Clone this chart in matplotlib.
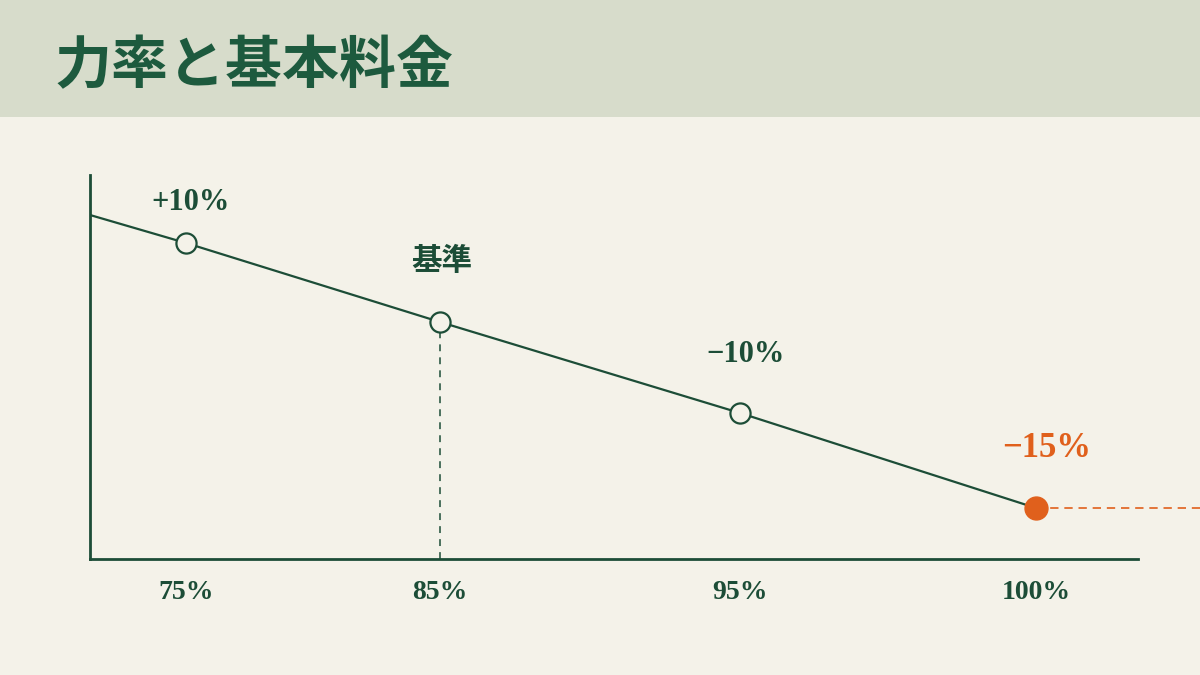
import numpy as np
import matplotlib
matplotlib.use('Agg')
import matplotlib.pyplot as plt
from matplotlib.patches import Rectangle


### data
title = '力率と基本料金'
pf_values = [75, 85, 95, 100]               # power factor (%)
pf_labels = ['75%', '85%', '95%', '100%']
rates = [10, 0, -10, -15]                   # basic charge adjustment (%)
rate_labels = ['+10%', '基準', '−10%', '−15%']
line_pf = [70] + pf_values                  # line runs on to the left axis
line_rates = [15] + rates

### colours
bg = '#f4f2e9'
banner = '#d7dccb'
green = '#1c4d37'
title_green = '#1d5a3e'
orange = '#e0601c'

plt.rcParams['font.family'] = ['Liberation Serif', 'Noto Sans CJK JP', 'DejaVu Sans']

### schematic (not to scale) axes: piecewise scales so the points sit on one straight line
x_anchor = [70, 75, 85, 95, 100, 105, 110]
x_pos = [0, 96, 350, 650, 946, 1048, 1150]
y_anchor = [-20, -15, -10, 0, 10, 15, 20]
y_pos = [0, 51, 146, 237, 316, 344, 384]

def fx(v): return np.interp(v, x_anchor, x_pos)
def ix(v): return np.interp(v, x_pos, x_anchor)
def fy(v): return np.interp(v, y_anchor, y_pos)
def iy(v): return np.interp(v, y_pos, y_anchor)


fig = plt.figure(figsize=(12, 6.75), dpi=100)
fig.patch.set_facecolor(bg)

# title banner
fig.patches.append(Rectangle((0, 1 - 117/675), 1, 117/675, transform=fig.transFigure,
                             facecolor=banner, edgecolor='none', zorder=0))
fig.text(55/1200, 1 - 66/675, title, fontsize=41, fontweight='bold', color=title_green,
         family=['Noto Sans CJK JP'], ha='left', va='center')

ax = fig.add_axes([90/1200, 1 - 559/675, 1048/1200, 384/675])
ax.set_facecolor('none')
ax.set_xscale('function', functions=(fx, ix))
ax.set_yscale('function', functions=(fy, iy))
ax.set_xlim(70, 105)
ax.set_ylim(-20, 20)

for s in ['top', 'right']:
    ax.spines[s].set_visible(False)
for s in ['left', 'bottom']:
    ax.spines[s].set_color(green)
    ax.spines[s].set_linewidth(2)

# main line
ax.plot(line_pf, line_rates, color=green, lw=1.6, zorder=3)

# reference (85%) drop line
ax.plot([pf_values[1], pf_values[1]], [-20, rates[1]], color=green, lw=1.1,
        linestyle=(0, (4.5, 4)), zorder=2)

# 100% orange guide running off the right edge
ax.plot([pf_values[-1], 110], [rates[-1], rates[-1]], color=orange, lw=1.2,
        linestyle=(0, (5, 3.5)), clip_on=False, zorder=2)

# markers
ax.plot(pf_values[:-1], rates[:-1], 'o', ms=14.5, mfc=bg, mec=green, mew=1.6,
        zorder=4, clip_on=False)
ax.plot(pf_values[-1:], rates[-1:], 'o', ms=16.5, mfc=orange, mec=orange,
        zorder=4, clip_on=False)

# labels above points
offsets = [(3, 29), (1, 43), (4, 42), (8, 43)]
for i in range(len(pf_values)):
    last = i == len(pf_values) - 1
    ax.annotate(rate_labels[i], (pf_values[i], rates[i]), xytext=offsets[i],
                textcoords='offset points', ha='center', va='center',
                fontsize=25 if last else 22, fontweight='bold',
                color=orange if last else green)

ax.set_yticks([])
ax.set_xticks(pf_values, pf_labels)
ax.tick_params(axis='x', length=0, pad=15, labelsize=20, labelcolor=green)
for lbl in ax.get_xticklabels():
    lbl.set_fontweight('bold')

fig.savefig('out.png', dpi=100, facecolor=bg)
